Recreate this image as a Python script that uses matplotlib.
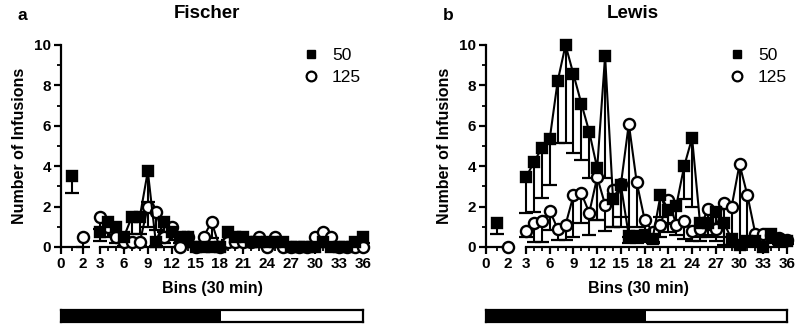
import numpy as np
import matplotlib
matplotlib.use("Agg")
import matplotlib.pyplot as plt
from matplotlib.lines import Line2D

plt.rcParams['font.family'] = ['Liberation Sans', 'DejaVu Sans']

# bins of the main session (3..36); bin 1 and bin 2 sit on the short axis segment
bins = list(range(3, 37))

# Fischer
fis_pre50 = 3.5
fis_pre50_err = 0.85
fis_pre125 = 0.5
fis_pre125_err = 0.5
fis_50 = [0.75, 1.25, 1.0, 0.5, 1.5, 1.5, 3.75, 0.25, 1.25, 0.75, 0.5, 0.5, 0.0, 0.0, 0.0, 0.0,
          0.75, 0.5, 0.5, 0.25, 0.25, 0.25, 0.25, 0.25, 0.0, 0.0, 0.0, 0.0, 0.25, 0.0, 0.0, 0.0, 0.25, 0.5]
fis_50_err = [0.45, 0.35, 0.4, 0.3, 0.85, 0.85, 1.5, 0.2, 0.5, 0.4, 0.3, 0.3, 0.0, 0.0, 0.0, 0.0,
              0.4, 0.3, 0.3, 0.2, 0.2, 0.2, 0.2, 0.2, 0.0, 0.0, 0.0, 0.0, 0.2, 0.0, 0.0, 0.0, 0.2, 0.3]
fis_125 = [1.5, 1.0, 0.5, 0.25, 0.25, 0.25, 2.0, 1.75, 0.5, 1.0, 0.0, 0.5, 0.0, 0.5, 1.25, 0.0,
           0.25, 0.25, 0.25, 0.25, 0.5, 0.0, 0.5, 0.0, 0.0, 0.0, 0.0, 0.5, 0.75, 0.5, 0.0, 0.0, 0.0, 0.0]
fis_125_err = [0.6, 0.5, 0.3, 0.2, 0.2, 0.2, 1.0, 0.9, 0.3, 0.5, 0.0, 0.4, 0.0, 0.4, 0.8, 0.0,
               0.2, 0.2, 0.2, 0.2, 0.4, 0.0, 0.4, 0.0, 0.0, 0.0, 0.0, 0.4, 0.5, 0.4, 0.0, 0.0, 0.0, 0.0]

# Lewis
lew_pre50 = 1.2
lew_pre50_err = 0.55
lew_pre125 = 0.0
lew_pre125_err = 0.0
lew_50 = [3.45, 4.2, 4.9, 5.35, 8.2, 10.0, 8.55, 7.1, 5.7, 3.9, 9.45, 2.4, 3.05, 0.55, 0.55, 0.6,
          0.4, 2.55, 1.85, 2.05, 4.0, 5.4, 1.2, 1.2, 1.75, 1.2, 0.4, 0.1, 0.3, 0.3, 0.0, 0.65, 0.35, 0.3]
lew_50_err = [1.75, 2.45, 2.45, 2.3, 3.05, 4.85, 3.9, 2.8, 2.3, 2.55, 6.05, 1.4, 1.55, 0.35, 0.35, 0.35,
              0.2, 1.05, 1.1, 0.9, 1.6, 3.4, 0.7, 0.6, 0.9, 1.1, 0.3, 0.1, 0.2, 0.2, 0.0, 0.4, 0.2, 0.1]
lew_125 = [0.8, 1.2, 1.3, 1.8, 0.9, 1.1, 2.55, 2.65, 1.7, 3.45, 2.1, 2.8, 3.1, 6.1, 3.2, 1.35,
           0.75, 1.1, 2.35, 1.1, 1.3, 0.8, 0.9, 1.9, 0.9, 2.2, 2.0, 4.1, 2.55, 0.65, 0.65, 0.6, 0.45, 0.35]
lew_125_err = [0.3, 0.95, 1.05, 0.95, 0.55, 0.75, 2.05, 1.45, 1.1, 2.1, 1.3, 1.8, 2.1, 5.6, 2.2, 1.05,
               0.5, 0.6, 1.15, 0.5, 0.9, 0.5, 0.6, 1.4, 0.6, 1.7, 1.9, 3.9, 2.35, 0.4, 0.4, 0.4, 0.3, 0.2]

# light/dark bar below each panel (fraction of session)
dark_frac = 0.53


def px(x, y):
    return x / 800, (328 - y) / 328


def style_axis(ax, left):
    ax.set_ylim(0, 10)
    for s in ['top', 'right']:
        ax.spines[s].set_visible(False)
    ax.spines['bottom'].set_linewidth(1.6)
    ax.spines['left'].set_linewidth(1.6)
    ax.tick_params(axis='both', which='major', length=5, width=1.6, direction='out',
                   labelsize=11, pad=2)
    ax.tick_params(axis='both', which='minor', length=3, width=1.3, direction='out')
    for lab in ax.get_xticklabels() + ax.get_yticklabels():
        lab.set_fontweight('bold')
    if not left:
        ax.spines['left'].set_visible(False)
        ax.tick_params(axis='y', which='both', left=False, labelleft=False)


def draw_errs(ax, x, y, err, marker, face):
    # one-sided (downward) error bars with a cap at the bottom only
    x = np.asarray(x, float)
    y = np.asarray(y, float)
    lo = y - np.asarray(err, float)
    ax.vlines(x, lo, y, colors='black', lw=1.5, clip_on=False, zorder=2)
    ax.plot(x, lo, ls='none', marker='_', ms=10, mew=1.6, color='black', clip_on=False, zorder=2)
    ax.plot(x, y, marker=marker, color='black', mfc=face, mec='black', ms=7 if marker == 's' else 8,
            mew=1.7, lw=1.5, clip_on=False, zorder=3)


def panel(x_short, x_long, x_right, letter, title, pre50, pre50e, pre125, pre125e,
          s50, s50e, s125, s125e, center):
    b, h = px(0, 247)[1], 202 / 328
    ax0 = fig.add_axes([x_short / 800, b, 22 / 800, h])
    ax1 = fig.add_axes([x_long / 800, b, (x_right - x_long) / 800, h])

    ax0.set_xlim(0, 2)
    ax0.set_xticks([0, 2])
    ax0.set_xticks([1], minor=True)
    ax0.set_yticks([0, 2, 4, 6, 8, 10])
    ax0.set_yticks([1, 3, 5, 7, 9], minor=True)
    ax1.set_xlim(3, 36)
    ax1.set_xticks([3, 6, 9, 12, 15, 18, 21, 24, 27, 30, 33, 36])
    ax1.set_xticks(bins, minor=True)
    style_axis(ax0, True)
    style_axis(ax1, False)

    draw_errs(ax0, [1], [pre50], [pre50e], 's', 'black')
    draw_errs(ax0, [2], [pre125], [pre125e], 'o', 'white')
    draw_errs(ax1, bins, s125, s125e, 'o', 'white')
    draw_errs(ax1, bins, s50, s50e, 's', 'black')

    ax0.set_ylabel('Number of Infusions', fontsize=11.5, fontweight='bold', labelpad=5)
    fig.text(*px(x_short - 43, 15), letter, fontsize=12.5, fontweight='bold', va='center')
    fig.text(*px(center, 13), title, fontsize=13.5, fontweight='bold', ha='center', va='center')
    fig.text(*px(center + 5, 288), 'Bins (30 min)', fontsize=11.5, fontweight='bold',
             ha='center', va='center')

    handles = [Line2D([], [], marker='s', ls='none', color='black', ms=6),
               Line2D([], [], marker='o', ls='none', mfc='white', mec='black', ms=7, mew=1.6)]
    ax1.legend(handles, ['50', '125'], loc='upper left', frameon=False, fontsize=12.5,
               bbox_to_anchor=px(x_long + 185, 32), bbox_transform=fig.transFigure,
               handletextpad=0.6, labelspacing=0.4, handlelength=1.2)

    axb = fig.add_axes([x_short / 800, px(0, 322)[1], (x_right - x_short) / 800, 12 / 328])
    axb.set_xlim(0, 1)
    axb.set_ylim(0, 1)
    axb.broken_barh([(0, dark_frac)], (0, 1), facecolors='black')
    axb.set_xticks([])
    axb.set_yticks([])
    for s in axb.spines.values():
        s.set_linewidth(1.6)


fig = plt.figure(figsize=(8, 3.28), dpi=100)
panel(61, 100, 363, 'a', 'Fischer', fis_pre50, fis_pre50_err, fis_pre125, fis_pre125_err,
      fis_50, fis_50_err, fis_125, fis_125_err, 207)
panel(486, 526, 787, 'b', 'Lewis', lew_pre50, lew_pre50_err, lew_pre125, lew_pre125_err,
      lew_50, lew_50_err, lew_125, lew_125_err, 633)

fig.savefig('out.png', dpi=100)
